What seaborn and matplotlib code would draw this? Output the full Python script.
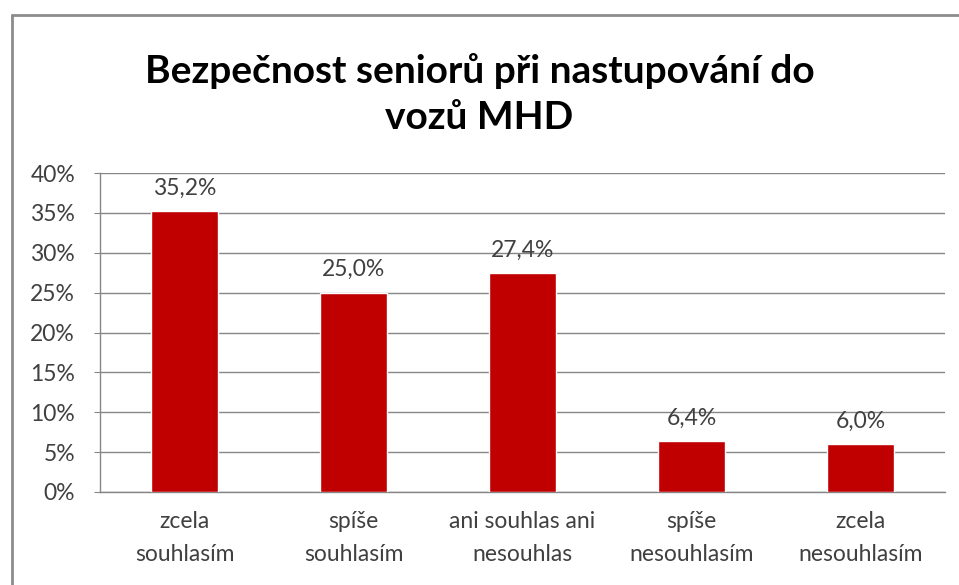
import matplotlib
matplotlib.use("Agg")
import matplotlib.pyplot as plt
from matplotlib.lines import Line2D
import seaborn as sns
import pandas as pd

categories = ["zcela\nsouhlasím", "spíše\nsouhlasím", "ani souhlas ani\nnesouhlas",
              "spíše\nnesouhlasím", "zcela\nnesouhlasím"]
values = [35.2, 25.0, 27.4, 6.4, 6.0]
y_ticks = [0, 5, 10, 15, 20, 25, 30, 35, 40]
title = "Bezpečnost seniorů při nastupování do\nvozů MHD"

sns.set_style("white")
plt.rcParams["font.family"] = ["Lato", "DejaVu Sans"]

df = pd.DataFrame({"cat": categories, "val": values})

W, H = 959, 585
fig = plt.figure(figsize=(W / 100, H / 100), dpi=100)
ax = fig.add_axes([100 / W, 1 - 492 / H, 845 / W, (492 - 173) / H])

sns.barplot(data=df, x="cat", y="val", color="#C00000", saturation=1,
            width=0.4, ax=ax, zorder=3)

ax.set_ylim(0, 40)
ax.set_xlim(-0.5, len(categories) - 0.5)
ax.set_yticks(y_ticks)
ax.set_yticklabels([f"{t}%" for t in y_ticks])
ax.yaxis.grid(True, color="#868686", linewidth=1, zorder=0)
ax.set_axisbelow(True)
ax.set_xlabel("")
ax.set_ylabel("")

for s in ["top", "right"]:
    ax.spines[s].set_visible(False)
for s in ["left", "bottom"]:
    ax.spines[s].set_color("#868686")
    ax.spines[s].set_linewidth(1)

ax.tick_params(axis="y", labelsize=16.5, colors="#404040", length=4,
               color="#868686", pad=14, left=True)
ax.tick_params(axis="x", labelsize=16.5, colors="#404040", length=0, pad=14)
for lbl in ax.get_xticklabels():
    lbl.set_linespacing(1.7)

for i, v in enumerate(values):
    ax.annotate(f"{v:.1f}%".replace(".", ","), (i, v), xytext=(0, 9),
                textcoords="offset points", ha="center", va="bottom",
                fontsize=16.5, color="#404040")

fig.text(0.5, 1 - 94 / H, title, ha="center", va="center", fontsize=28,
         fontweight="bold", color="black", linespacing=1.4)

# chart border (top and left visible)
fig.add_artist(Line2D([12 / W, 1], [1 - 15 / H, 1 - 15 / H], color="#8c8c8c", lw=2,
                      transform=fig.transFigure))
fig.add_artist(Line2D([12 / W, 12 / W], [0, 1 - 15 / H], color="#8c8c8c", lw=2,
                      transform=fig.transFigure))

fig.savefig("out.png", dpi=100)
